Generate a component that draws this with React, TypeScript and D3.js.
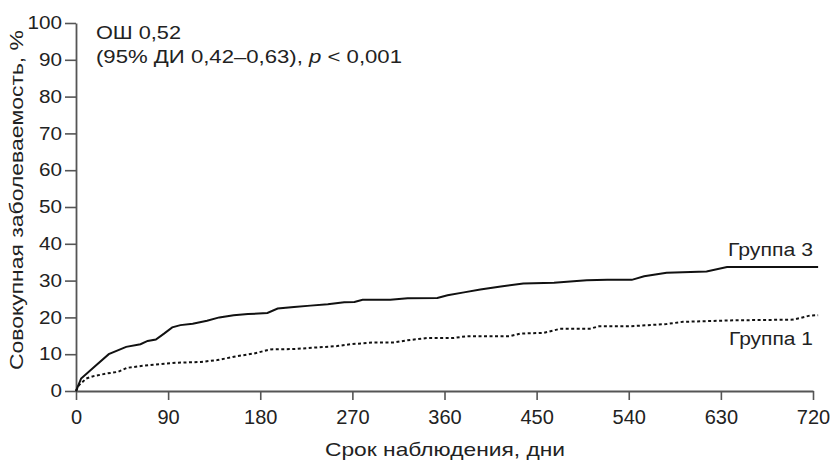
import React, { useEffect, useRef } from "react"
import * as d3 from "d3"

// Группа 3 (solid)
const group3Days = [0, 5, 18, 32, 49, 63, 70, 78, 86, 94, 102, 114, 128, 140, 154, 168, 187, 197, 213, 229, 246, 262, 272, 280, 307, 324, 353, 363, 379, 395, 415, 437, 467, 486, 499, 519, 543, 555, 577, 616, 636, 725]
const group3Vals = [0, 3.4, 6.6, 10.0, 12.0, 12.7, 13.6, 14.0, 15.6, 17.3, 17.9, 18.3, 19.1, 20.0, 20.6, 20.9, 21.2, 22.4, 22.8, 23.2, 23.6, 24.1, 24.2, 24.8, 24.8, 25.2, 25.3, 26.0, 26.8, 27.6, 28.4, 29.2, 29.4, 29.8, 30.1, 30.2, 30.2, 31.2, 32.1, 32.5, 33.7, 33.7]

// Группа 1 (dotted)
const group1Days = [0, 3, 10, 18, 31, 41, 50, 67, 83, 99, 122, 138, 158, 174, 190, 213, 233, 255, 268, 291, 311, 324, 343, 369, 382, 424, 434, 457, 473, 502, 511, 542, 577, 593, 642, 701, 717, 725]
const group1Vals = [0, 1.6, 3.4, 4.1, 4.8, 5.2, 6.3, 6.9, 7.3, 7.7, 7.9, 8.4, 9.5, 10.2, 11.3, 11.4, 11.8, 12.2, 12.7, 13.2, 13.2, 13.8, 14.4, 14.4, 14.9, 14.9, 15.6, 15.8, 16.9, 16.9, 17.6, 17.6, 18.2, 18.8, 19.2, 19.4, 20.5, 20.6]

const xTicks = [0, 90, 180, 270, 360, 450, 540, 630, 720]
const yTicks = [0, 10, 20, 30, 40, 50, 60, 70, 80, 90, 100]

const W = 835
const H = 460
const FONT = "'Liberation Sans', Arial, Helvetica, sans-serif"

export default function App() {
  const svgRef = useRef<SVGSVGElement>(null)

  useEffect(() => {
    document.body.style.margin = "0"
    if (!svgRef.current) return
    const svg = d3.select(svgRef.current)
    svg.selectAll("*").remove()

    const x = d3.scaleLinear().domain([0, 720]).range([76, 813])
    const y = d3.scaleLinear().domain([0, 100]).range([391, 23])
    const axisColor = "#555"

    // axes
    const gx = svg.append("g").attr("transform", `translate(0,${y(0)})`)
      .call(d3.axisBottom(x).tickValues(xTicks).tickSize(9).tickPadding(10).tickSizeOuter(0))
    gx.select(".domain").attr("stroke", axisColor).attr("stroke-width", 1.8)
    gx.selectAll(".tick line").attr("stroke", axisColor).attr("stroke-width", 1.6)
    gx.selectAll(".tick text")
      .attr("fill", "#222")
      .style("font-family", FONT)
      .style("font-size", "20px")

    const gy = svg.append("g").attr("transform", `translate(${x(0)},0)`)
      .call(d3.axisLeft(y).tickValues(yTicks).tickSize(11).tickPadding(3).tickSizeOuter(0))
    gy.select(".domain").attr("stroke", axisColor).attr("stroke-width", 1.8)
    gy.selectAll(".tick line").attr("stroke", axisColor).attr("stroke-width", 1.6)
    gy.selectAll(".tick text")
      .attr("fill", "#222")
      .attr("textLength", (d: any) => String(d).length * 11.5)
      .attr("lengthAdjust", "spacingAndGlyphs")
      .style("font-family", FONT)
      .style("font-size", "18px")

    // curves
    const line = d3.line<[number, number]>()
      .x(d => x(d[0]))
      .y(d => y(d[1]))
      .curve(d3.curveLinear)

    const g1: [number, number][] = group1Days.map((d, i) => [d, group1Vals[i]])
    const g3: [number, number][] = group3Days.map((d, i) => [d, group3Vals[i]])

    svg.append("path")
      .attr("d", line(g1))
      .attr("fill", "none")
      .attr("stroke", "#111")
      .attr("stroke-width", 2)
      .attr("stroke-dasharray", "3,2.5")

    svg.append("path")
      .attr("d", line(g3))
      .attr("fill", "none")
      .attr("stroke", "#111")
      .attr("stroke-width", 2)

    const text = (tx: number, ty: number, s: string, len: number, anchor = "start") =>
      svg.append("text")
        .attr("x", tx)
        .attr("y", ty)
        .attr("text-anchor", anchor)
        .attr("textLength", len)
        .attr("lengthAdjust", "spacingAndGlyphs")
        .attr("fill", "#222")
        .style("font-family", FONT)
        .style("font-size", "18px")
        .text(s)

    // series labels
    text(813, 256, "Группа 3", 85, "end")
    text(813, 345, "Группа 1", 84, "end")

    // annotation
    text(96, 39, "ОШ 0,52", 85)
    const t2 = svg.append("text")
      .attr("x", 96)
      .attr("y", 63)
      .attr("textLength", 306)
      .attr("lengthAdjust", "spacingAndGlyphs")
      .attr("fill", "#222")
      .style("font-family", FONT)
      .style("font-size", "18px")
    t2.append("tspan").text("(95% ДИ 0,42–0,63), ")
    t2.append("tspan").style("font-style", "italic").text("p")
    t2.append("tspan").text(" < 0,001")

    // axis titles
    svg.append("text")
      .attr("transform", `translate(23,200) rotate(-90)`)
      .attr("text-anchor", "middle")
      .attr("textLength", 340)
      .attr("lengthAdjust", "spacingAndGlyphs")
      .attr("fill", "#222")
      .style("font-family", FONT)
      .style("font-size", "18px")
      .text("Совокупная заболеваемость, %")

    svg.append("text")
      .attr("x", 445)
      .attr("y", 456)
      .attr("text-anchor", "middle")
      .attr("textLength", 240)
      .attr("lengthAdjust", "spacingAndGlyphs")
      .attr("fill", "#222")
      .style("font-family", FONT)
      .style("font-size", "19px")
      .text("Срок наблюдения, дни")
  }, [])

  return (
    <svg ref={svgRef} width={W} height={H} style={{ display: "block", background: "#fff" }}></svg>
  )
}
